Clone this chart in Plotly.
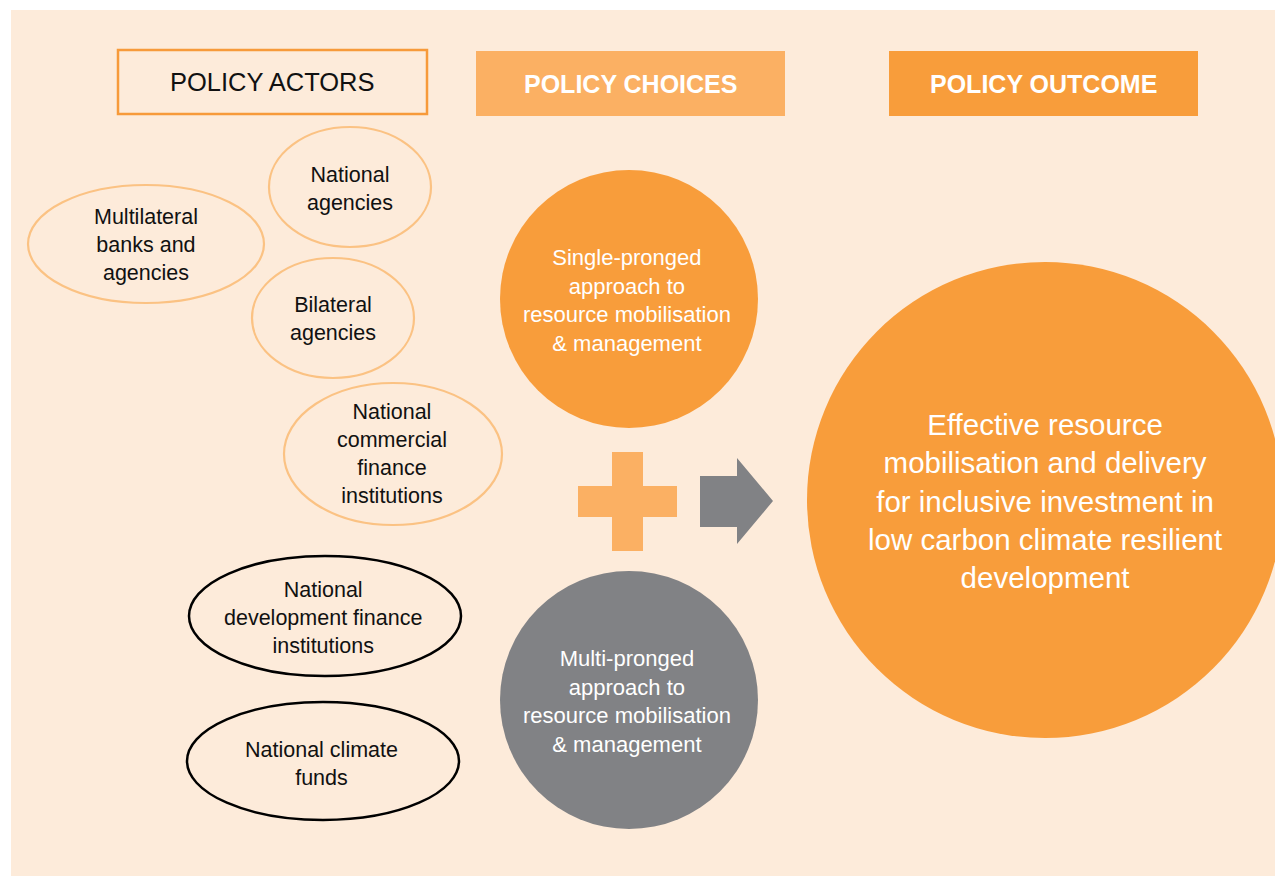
import plotly.graph_objects as go

# ---- content ----
headers = ["POLICY ACTORS", "POLICY CHOICES", "POLICY OUTCOME"]
actors_orange = [
    "Multilateral<br>banks and<br>agencies",
    "National<br>agencies",
    "Bilateral<br>agencies",
    "National<br>commercial<br>finance<br>institutions",
]
actors_black = [
    "National<br>development finance<br>institutions",
    "National climate<br>funds",
]
choices = [
    "Single-pronged<br>approach to<br>resource mobilisation<br>& management",
    "Multi-pronged<br>approach to<br>resource mobilisation<br>& management",
]
outcome = "Effective resource<br>mobilisation and delivery<br>for inclusive investment in<br>low carbon climate resilient<br>development"

# ---- layout spec (page pixel space; page body has an 8px margin) ----
W, H = 1283, 876
OFF = 8
BG = "#FDEBDA"
ORANGE = "#F89D3B"
LIGHT = "#FBB063"
OUTLINE = "#FBC283"
GREY = "#818285"
FONT = "Liberation Sans, Arial, Helvetica, sans-serif"

# ellipses: (cx, cy, rx, ry)
ell_orange = [(146, 244, 118, 59), (350, 187, 81, 60), (333, 318, 81, 60), (393, 454, 109, 71)]
ell_black = [(325, 616, 136, 60), (323, 761, 136, 59)]
txt_orange = [(146, 245), (350, 189), (333, 319), (392, 454)]
txt_black = [(323, 618), (321, 764)]
circ_choice = [(629, 299, 129, ORANGE), (629, 700, 129, GREY)]
txt_choice = [(627, 300), (627, 701)]
big = (1045, 500, 238)

shapes = []
annotations = []

# white page strips left/top of the panel
shapes.append(dict(type="rect", x0=0, y0=0, x1=11, y1=H + 20,
                   fillcolor="white", line=dict(width=0), layer="below"))
shapes.append(dict(type="rect", x0=0, y0=0, x1=W + 20, y1=10,
                   fillcolor="white", line=dict(width=0), layer="below"))

# header boxes
shapes.append(dict(type="rect", x0=118, y0=50, x1=427, y1=114,
                   fillcolor=BG, line=dict(color="#F79A3A", width=2.5)))
shapes.append(dict(type="rect", x0=476, y0=51, x1=785, y1=116,
                   fillcolor=LIGHT, line=dict(width=0)))
shapes.append(dict(type="rect", x0=889, y0=51, x1=1198, y1=116,
                   fillcolor=ORANGE, line=dict(width=0)))
annotations.append(dict(x=272.5, y=82, text=headers[0], showarrow=False,
                        font=dict(family=FONT, size=25.5, color="#111111")))
annotations.append(dict(x=630.5, y=84, text="<b>" + headers[1] + "</b>", showarrow=False,
                        font=dict(family=FONT, size=25, color="white")))
annotations.append(dict(x=1043.5, y=84, text="<b>" + headers[2] + "</b>", showarrow=False,
                        font=dict(family=FONT, size=25, color="white")))

# actor ellipses
for (cx, cy, rx, ry) in ell_orange:
    shapes.append(dict(type="circle", x0=cx - rx, x1=cx + rx, y0=cy - ry, y1=cy + ry,
                       line=dict(color=OUTLINE, width=2.2), fillcolor="rgba(0,0,0,0)"))
for (cx, cy, rx, ry) in ell_black:
    shapes.append(dict(type="circle", x0=cx - rx, x1=cx + rx, y0=cy - ry, y1=cy + ry,
                       line=dict(color="#000000", width=2.5), fillcolor="rgba(0,0,0,0)"))
for lab, (x, y) in zip(actors_orange, txt_orange):
    annotations.append(dict(x=x, y=y, text=lab, showarrow=False,
                            font=dict(family=FONT, size=21.5, color="#111111")))
for lab, (x, y) in zip(actors_black, txt_black):
    annotations.append(dict(x=x, y=y, text=lab, showarrow=False,
                            font=dict(family=FONT, size=21.5, color="#111111")))

# choice circles
for (cx, cy, r, col) in circ_choice:
    shapes.append(dict(type="circle", x0=cx - r, x1=cx + r, y0=cy - r, y1=cy + r,
                       fillcolor=col, line=dict(width=0)))
for lab, (x, y) in zip(choices, txt_choice):
    annotations.append(dict(x=x, y=y, text=lab, showarrow=False,
                            font=dict(family=FONT, size=22, color="white")))

# plus sign
shapes.append(dict(type="rect", x0=612, x1=643, y0=452, y1=551, fillcolor=LIGHT, line=dict(width=0)))
shapes.append(dict(type="rect", x0=578, x1=677, y0=486, y1=517, fillcolor=LIGHT, line=dict(width=0)))

# arrow
shapes.append(dict(type="path",
                   path="M 700 476 L 737 476 L 737 458 L 773 501 L 737 544 L 737 527 L 700 527 Z",
                   fillcolor=GREY, line=dict(width=0)))

# outcome circle
cx, cy, r = big
shapes.append(dict(type="circle", x0=cx - r, x1=cx + r, y0=cy - r, y1=cy + r,
                   fillcolor=ORANGE, line=dict(width=0)))
annotations.append(dict(x=1045, y=501, text=outcome, showarrow=False,
                        font=dict(family=FONT, size=29.5, color="white")))

for a in annotations:
    a.update(xref="x", yref="y", xanchor="center", yanchor="middle", align="center")

fig = go.Figure()
fig.update_layout(
    width=W - OFF, height=H - OFF,
    margin=dict(l=0, r=0, t=0, b=0, pad=0),
    paper_bgcolor=BG, plot_bgcolor=BG,
    xaxis=dict(range=[OFF, W], visible=False, fixedrange=True),
    yaxis=dict(range=[H, OFF], visible=False, fixedrange=True),
    shapes=shapes, annotations=annotations, showlegend=False,
)
fig.write_html("out.html")
